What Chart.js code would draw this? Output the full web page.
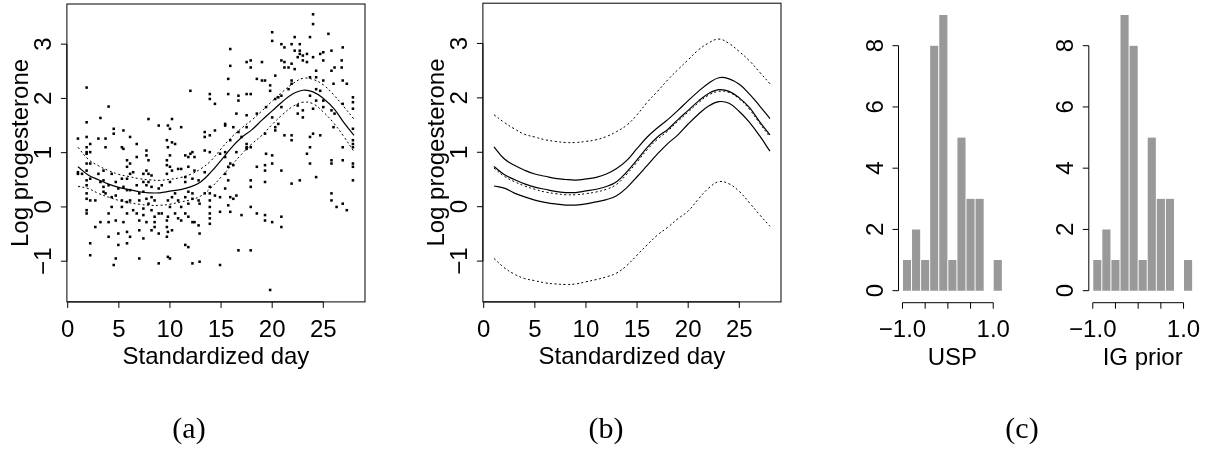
<!DOCTYPE html>
<html lang="en">
<head>
<meta charset="UTF-8">
<title>Log progesterone by standardized day</title>
<script src="https://cdn.jsdelivr.net/npm/chart.js"></script>
<style>
    body { margin: 0; background: #fff; }
    .wrap { position: relative; width: 1212px; height: 451px; }
    .wrap canvas { position: absolute; left: 0; top: 0; }
</style>
</head>
<body>
<div class="wrap">
    <canvas id="scatterChart" width="1212" height="451"></canvas>
    <canvas id="bandChart" width="1212" height="451"></canvas>
    <canvas id="uspChart" width="1212" height="451"></canvas>
    <canvas id="igChart" width="1212" height="451"></canvas>
</div>
<script>
// observed log progesterone, grouped by standardized day
const pointDays = [1.0, 1.4, 1.85, 2.2, 2.7, 3.0, 3.2, 3.5, 3.7, 4.0, 4.3, 4.5, 4.7, 4.95, 5.3, 5.45, 5.8, 6.1, 6.4, 6.75,
    7.0, 7.4, 7.7, 7.9, 8.2, 8.5, 8.9, 9.2, 9.7, 9.8, 10.0, 10.2, 10.5, 10.8, 11.1, 11.5, 11.8, 12.0, 12.2, 12.4,
    12.8, 12.9, 13.4, 13.9, 14.4, 14.9, 15.4, 15.7, 15.9, 16.2, 16.5, 16.7, 17.0, 17.5, 17.9, 18.5, 19.0, 19.3, 19.4, 19.8,
    20.0, 20.3, 20.6, 20.9, 21.2, 21.6, 21.9, 22.2, 22.5, 22.7, 23.0, 23.4, 23.7, 24.0, 24.3, 24.7, 25.0, 25.5, 25.8, 26.0,
    26.1, 26.3, 26.8, 26.9, 27.3, 27.9];
const pointLogP = [
    [1.26, 0.64, 0.61], [0.61],
    [2.2, 1.56, 1.29, 1.1, 1.01, 0.98, 0.8, 0.67, 0.49, 0.4, 0.25, 0.15, -0.06, -0.12],
    [1.16, 1.01, 0.8, 0.52, 0.12, -0.67, -0.89], [0.12, -0.37], [1.26, 0.61], [1.64, 0.46, -0.28],
    [0.67, 0.49, 0.37, 0.28], [1.26, 1.1, 0.25], [1.85, 0.4, -0.12, -0.28, -0.55], [0.61, 0.18, 0.0],
    [1.44, 1.35, -1.07], [0.46, 0.21, -0.25, -0.95], [0.34, -0.49, -0.7], [1.1, 0.52, 0.12, 0],
    [1.41, 1.07, 0.37, -0.28], [0.86, 0.74, 0.52, 0.31, 0.09, -0.12, -0.46, -0.67],
    [1.29, 0.8, 0.61, 0.31, 0.12, -0.55], [0.64, -0.06], [1.16, 0.92, 0.4, -0.12],
    [0.25, 0.12, -0.25, -0.43, -0.95], [0.61, 0.46, 0.28, -0.03, -0.15, -0.58],
    [1.04, 0.95, 0.67, 0.4, 0.15, -0.28], [1.62, 0.86, 0.61, 0.46, 0.06], [0.58, 0.37, 0.18, -0.06, -0.43],
    [0.12, -0.18, -0.28, -0.37], [1.5, 0.34, -0.12, -0.49, -1.04], [0.4, -0.12],
    [1.23, 0.86, 0.77, 0.61, -0.25, -0.37, -0.55], [1.5, 1.1, 0.12, -0.18, -0.46, -0.92],
    [1.44, 0.95, 0.74, 0.46, 0, -0.95], [1.62, 1.19, 0.67, 0.18, -0.43], [1.16, 0.25, -0.12],
    [0.7, 0.12, -0.21], [1.47, 0.7, 0, -0.25], [0.95, 0.55, 0.46, 0.18, -0.12, -0.7],
    [0.92, 0.74, 0.28, 0.06, -0.18, -0.74], [2.14, 0.98], [1.01, 0.52, 0.25, 0.15, -0.28, -1.04],
    [0.92, 0.67, -0.28], [0.49, 0.12, -0.34], [0.06, -0.49, -1.01], [1.38, 1.29, 1.04, 0.64, 0.25],
    [2.08, 1.99, 1.32, 1.01, 0.37, 0.25, 0.12, 0, -0.12, -0.21, -0.31], [1.41, 1.9, 0.21],
    [0.98, 0.18, -0.09, -1.07], [1.53, 1.5, 1.01, 0.92, 0.61, 0.34], [2.36, 2.08, 0.74, 0.49, 0.03],
    [2.91, 2.6, 1.23, 0.8, 0.18, -0.09], [1.47, 0.77, 0.15], [1.72, 1.01, 0.21], [2.05, 1.96, 1.38, -0.8],
    [1.29, -0.15], [2.67, 2.08, 1.69, 1.47, 1.16, 1.1, 1.07], [2.7, 2.57, 2.08, 1.1, 0.49, 0.37, 0, -0.8],
    [2.36, 1.72, 0.74, -0.12], [2.67, 2.33], [2.33, 1.35, 0.77, 0.67, 0.46, -0.15, -0.25], [1.84, 0.98],
    [2.24, 2.14, -1.53], [3.22, 3.06, 1.65, 0.95, 0.8, -0.28], [2.42, 1.99, 1.47, 1.41], [2.02, 1.53],
    [3.0, 2.7, 2.05, 1.84, 0.67, -0.18, -0.37], [2.94, 2.67, 2.57, 1.32], [2.57, 2.17],
    [3.0, 2.64, 2.33, 2.27, 1.32, 1.23, 0.43], [3.13, 2.88, 2.54], [2.76, 1.87, 1.72], [3.0, 2.88, 2.82, 0.49],
    [2.79, 2.7, 1.78, 1.65], [2.82, 2.67, 0.98], [3.13, 2.39, 2.05, 1.29, 1.1, 0.8], [3.55, 3.37, 2.76, 1.81, 1.35],
    [2.51, 2.39, 2.17, 1.96, 0.55], [2.82, 2.14, 1.32], [2.85, 2.7, 2.33, 1.96, 1.84], [3.19],
    [2.88, 2.51, 1.78, 0.86, 0.8, 0.25, 0.12], [2.27, 1.47], [2.57, 1.72], [0], [2.7, 2.57],
    [2.94, 2.33, 1.9, 1.1, 0.86, 0.06], [2.27, -0.06],
    [2.02, 1.93, 1.81, 1.44, 1.23, 1.16, 1.1, 0.8, 0.74, 0.49]
];

// fitted curves on days 1..28
const days = [1, 2, 3, 4, 5, 6, 7, 8, 9, 10, 11, 12, 13, 14, 15, 16, 17, 18, 19, 20, 21, 22, 23, 24, 25, 26, 27, 28];
const meanFit = [0.74, 0.59, 0.50, 0.42, 0.36, 0.32, 0.28, 0.26, 0.26, 0.29, 0.32, 0.37, 0.46, 0.64, 0.86, 1.09, 1.28, 1.42, 1.60, 1.77, 1.94, 2.08, 2.15, 2.12, 2.00, 1.82, 1.56, 1.32];
const upperCI = [1.10, 0.88, 0.76, 0.67, 0.60, 0.56, 0.52, 0.50, 0.49, 0.51, 0.54, 0.60, 0.70, 0.85, 1.07, 1.28, 1.45, 1.60, 1.77, 1.95, 2.12, 2.27, 2.37, 2.35, 2.25, 2.07, 1.85, 1.62];
const lowerCI = [0.38, 0.34, 0.25, 0.18, 0.12, 0.08, 0.05, 0.03, 0.03, 0.05, 0.09, 0.13, 0.20, 0.35, 0.55, 0.76, 0.97, 1.16, 1.32, 1.52, 1.70, 1.85, 1.93, 1.90, 1.75, 1.55, 1.30, 1.02];
const altMean = [0.71, 0.56, 0.46, 0.38, 0.32, 0.27, 0.24, 0.22, 0.22, 0.24, 0.27, 0.32, 0.41, 0.60, 0.82, 1.05, 1.24, 1.39, 1.57, 1.74, 1.91, 2.05, 2.12, 2.10, 1.98, 1.79, 1.53, 1.28];
const upperPred = [1.69, 1.55, 1.43, 1.33, 1.28, 1.23, 1.20, 1.18, 1.18, 1.20, 1.23, 1.29, 1.38, 1.50, 1.69, 1.92, 2.12, 2.33, 2.52, 2.70, 2.88, 3.01, 3.08, 3.00, 2.85, 2.68, 2.47, 2.26];
const lowerPred = [-0.95, -1.12, -1.24, -1.32, -1.36, -1.40, -1.42, -1.43, -1.42, -1.38, -1.34, -1.29, -1.22, -1.08, -0.89, -0.70, -0.52, -0.38, -0.22, -0.08, 0.14, 0.34, 0.46, 0.42, 0.28, 0.07, -0.15, -0.36];

// histograms
const binMids = [-0.9, -0.7, -0.5, -0.3, -0.1, 0.1, 0.3, 0.5, 0.7, 0.9, 1.1];
const uspCounts = [1, 2, 1, 8, 9, 1, 5, 3, 3, 0, 1];
const igCounts = [1, 2, 1, 9, 8, 1, 5, 3, 3, 0, 1];

// axis ticks
const dayTicks = [0, 5, 10, 15, 20, 25];
const dayLabels = ['0', '5', '10', '15', '20', '25'];
const logTicks = [-1, 0, 1, 2, 3];
const logLabels = ['\u22121', '0', '1', '2', '3'];
const countTicks = [0, 2, 4, 6, 8];
const countLabels = ['0', '2', '4', '6', '8'];
const coefTicks = [-1, -0.5, 0, 0.5, 1];
const coefLabels = ['\u22121.0', '', '', '', '1.0'];

const SANS = '"Liberation Sans", Arial, Helvetica, sans-serif';

// R-style axes drawn from the chart's own scales
const rAxes = {
    id: 'rAxes',
    afterDatasetsDraw(chart, args, o) {
        const { ctx, chartArea: a, scales: { x, y } } = chart;
        ctx.save();
        ctx.strokeStyle = '#000';
        ctx.fillStyle = '#000';
        ctx.lineWidth = 1;
        if (o.box) ctx.strokeRect(a.left, a.top, a.right - a.left, a.bottom - a.top);
        ctx.font = '24px ' + SANS;

        const bx = o.xTicks.map(v => x.getPixelForValue(v));
        const by = a.bottom + (o.xShift || 0);
        ctx.beginPath();
        ctx.moveTo(bx[0], by);
        ctx.lineTo(bx[bx.length - 1], by);
        bx.forEach(px => { ctx.moveTo(px, by); ctx.lineTo(px, by + 6); });
        ctx.stroke();
        ctx.textAlign = 'center';
        ctx.textBaseline = 'alphabetic';
        o.xLabels.forEach((t, i) => { if (t) ctx.fillText(t, bx[i], by + 34.7); });
        ctx.fillText(o.xTitle, (a.left + a.right) / 2, by + 62.5);

        const ly = o.yTicks.map(v => y.getPixelForValue(v));
        const lx = a.left;
        ctx.beginPath();
        ctx.moveTo(lx, ly[0]);
        ctx.lineTo(lx, ly[ly.length - 1]);
        ly.forEach(py => { ctx.moveTo(lx, py); ctx.lineTo(lx - 6, py); });
        ctx.stroke();
        o.yLabels.forEach((t, i) => {
            ctx.save();
            ctx.translate(lx - 15.9, ly[i]);
            ctx.rotate(-Math.PI / 2);
            ctx.fillText(t, 0, 0);
            ctx.restore();
        });
        if (o.yTitle) {
            ctx.save();
            ctx.translate(o.yTitleX, (a.top + a.bottom) / 2);
            ctx.rotate(-Math.PI / 2);
            ctx.fillText(o.yTitle, 0, 0);
            ctx.restore();
        }
        if (o.caption) {
            ctx.font = '30px "Liberation Serif", "Times New Roman", serif';
            ctx.fillText(o.caption, o.captionX, 438);
        }
        ctx.restore();
    }
};

function pts(xs, ys) {
    return xs.map((v, i) => ({ x: v, y: ys[i] }));
}

function curve(ys, dash, width) {
    return {
        type: 'line',
        data: pts(days, ys),
        borderColor: '#000',
        borderWidth: width || 1,
        borderDash: dash || [],
        pointRadius: 0,
        tension: 0.4,
        fill: false
    };
}

function baseOptions(pad, xr, yr, axes) {
    return {
        responsive: false,
        animation: false,
        events: [],
        layout: { padding: pad },
        plugins: { legend: { display: false }, tooltip: { enabled: false }, rAxes: axes },
        scales: {
            x: { type: 'linear', min: xr[0], max: xr[1], offset: false, display: false },
            y: { type: 'linear', min: yr[0], max: yr[1], display: false }
        }
    };
}

const scatterPoints = [];
pointDays.forEach((d, i) => pointLogP[i].forEach(v => scatterPoints.push({ x: d, y: v })));

const dayRange = [-0.08, 29.08];
const logRange = [-1.75, 3.74];
const dotted = [2, 2.5];

new Chart(document.getElementById('scatterChart'), {
    type: 'scatter',
    data: {
        datasets: [
            { data: scatterPoints, pointStyle: 'rect', pointRadius: 1.8, pointBorderWidth: 0, backgroundColor: '#000' },
            curve(meanFit, [], 1.2),
            curve(upperCI, dotted),
            curve(lowerCI, dotted)
        ]
    },
    options: baseOptions({ left: 66.9, top: 3.2, right: 1212 - 365, bottom: 451 - 301.9 }, dayRange, logRange, {
        box: true, xTicks: dayTicks, xLabels: dayLabels, xTitle: 'Standardized day',
        yTicks: logTicks, yLabels: logLabels, yTitle: 'Log progesterone', yTitleX: 28,
        caption: '(a)', captionX: 189
    }),
    plugins: [rAxes]
});

new Chart(document.getElementById('bandChart'), {
    type: 'scatter',
    data: {
        datasets: [
            curve(upperPred, dotted),
            curve(lowerPred, dotted),
            curve(altMean, dotted),
            curve(meanFit, [], 1.2),
            curve(upperCI, [], 1.2),
            curve(lowerCI, [], 1.2)
        ]
    },
    options: baseOptions({ left: 482.9, top: 3.2, right: 1212 - 781, bottom: 451 - 301.9 }, dayRange, logRange, {
        box: true, xTicks: dayTicks, xLabels: dayLabels, xTitle: 'Standardized day',
        yTicks: logTicks, yLabels: logLabels, yTitle: 'Log progesterone', yTitleX: 444,
        caption: '(b)', captionX: 606
    }),
    plugins: [rAxes]
});

function histChart(id, counts, pad, title, caption) {
    new Chart(document.getElementById(id), {
        type: 'bar',
        data: {
            datasets: [{
                data: pts(binMids, counts),
                backgroundColor: '#999999',
                borderColor: '#ffffff',
                borderWidth: { left: 0.8, right: 0.8, top: 0, bottom: 0 },
                borderSkipped: false,
                barPercentage: 1,
                categoryPercentage: 1
            }]
        },
        options: baseOptions(pad, [-1.088, 1.288], [-0.36, 9.36], {
            box: false, xShift: 1, xTicks: coefTicks, xLabels: coefLabels, xTitle: title,
            yTicks: countTicks, yLabels: countLabels,
            caption: caption, captionX: 1022
        }),
        plugins: [rAxes]
    });
}

histChart('uspChart', uspCounts, { left: 898.5, top: 4.05, right: 1212 - 1006.3, bottom: 451 - 301.7 }, 'USP', '(c)');
histChart('igChart', igCounts, { left: 1088.8, top: 4.05, right: 1212 - 1196.6, bottom: 451 - 301.7 }, 'IG prior', null);
</script>
</body>
</html>
